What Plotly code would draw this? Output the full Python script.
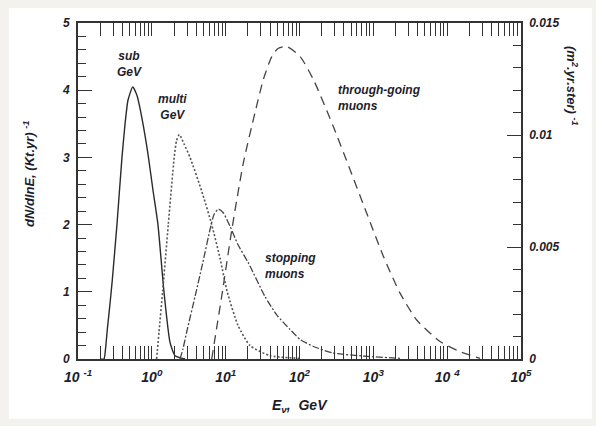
import plotly.graph_objects as go

# ---------------- data ----------------
# Neutrino energy (GeV) and event rates
sub_E = [0.20, 0.225, 0.236, 0.25, 0.27, 0.29, 0.337, 0.394, 0.434, 0.475, 0.551, 0.630, 0.730,
         0.887, 1.04, 1.21, 1.46, 1.76, 2.06, 2.81]
sub_N = [0.0, 0.0, 0.15, 0.45, 0.8, 1.15, 2.0, 3.0, 3.5, 3.85, 4.05, 3.92, 3.6,
         3.05, 2.5, 2.0, 1.0, 0.25, 0.05, 0.0]

multi_E = [1.16, 1.25, 1.40, 1.67, 2.01, 2.16, 2.36, 2.73, 3.29, 4.73, 6.47,
           8.38, 10.5, 14.7, 21.4, 39.8, 100.0]
multi_N = [0.0, 0.4, 1.0, 2.0, 3.0, 3.25, 3.34, 3.2, 3.0, 2.5, 2.0,
           1.5, 1.0, 0.5, 0.2, 0.05, 0.01]

# right axis units: (m^2 yr ster)^-1
stop_E = [2.41, 2.64, 3.02, 3.85, 4.89, 6.27, 6.95, 7.94, 9.20, 11.5, 14.7,
          20.3, 34.1, 49.7, 74.5, 102, 152, 284, 820, 2290]
stop_F = [0.0, 0.00045, 0.00132, 0.00279, 0.00429, 0.00591, 0.00645, 0.00669,
          0.00654, 0.00591, 0.0051, 0.00429, 0.00279, 0.00195, 0.00132, 0.00087,
          0.00057, 0.00027, 0.00012, 0.00003]

thru_E = [6.47, 7.40, 8.83, 12.1, 17.3, 24.9, 32.4, 42.1, 51.2, 67.1, 102, 154,
          287, 483, 813, 1365, 2300, 3870, 8000, 14900, 27900]
thru_F = [0.0, 0.0012, 0.00279, 0.00576, 0.00873, 0.01098, 0.01248, 0.0135,
          0.01386, 0.01395, 0.0135, 0.01248, 0.01038, 0.00846, 0.00651, 0.00459,
          0.00294, 0.00174, 0.00078, 0.00033, 0.00003]

x_tickvals = [0.1, 1, 10, 100, 1000, 10000, 100000]
x_ticktext = ["10 <sup>-1</sup>", "10<sup>0</sup>", "10<sup>1</sup>", "10<sup>2</sup>",
              "10<sup>3</sup>", "10 <sup>4</sup>", "10<sup>5</sup>"]
y_tickvals = [0, 1, 2, 3, 4, 5]
y2_tickvals = [0, 0.005, 0.01, 0.015]
y2_ticktext = ["0", "0.005", "0.01", "0.015"]

# ---------------- figure ----------------
FONT = "Liberation Sans, Arial, sans-serif"
TXT = "#1d1d2b"
AX = "#333333"

minor_x = [m * 10 ** k for k in range(-1, 5) for m in range(2, 10)]

fig = go.Figure()
fig.add_trace(go.Scatter(x=sub_E, y=sub_N, mode="lines", line=dict(color="#2a2a2a", width=1.4, shape="spline", smoothing=0.5), yaxis="y"))
fig.add_trace(go.Scatter(x=multi_E, y=multi_N, mode="lines", line=dict(color="#555555", width=1.6, dash="2px,2px", shape="spline", smoothing=0.6), yaxis="y"))
fig.add_trace(go.Scatter(x=stop_E, y=stop_F, mode="lines", line=dict(color="#444444", width=1.3, dash="7px,2px,2px,2px", shape="spline", smoothing=0.6), yaxis="y2"))
fig.add_trace(go.Scatter(x=thru_E, y=thru_F, mode="lines", line=dict(color="#444444", width=1.3, dash="9px,6px", shape="spline", smoothing=0.6), yaxis="y2"))

tickfont = dict(family=FONT, size=13, color=TXT, weight="bold", style="italic")

fig.update_layout(
    width=596, height=426,
    margin=dict(l=78, r=75, t=23, b=67),
    paper_bgcolor="#f3f2ee", plot_bgcolor="white",
    showlegend=False,
    xaxis=dict(type="log", range=[-1, 5], tickvals=x_tickvals, ticktext=x_ticktext,
               ticks="inside", ticklen=13, tickwidth=1.3, tickcolor=AX,
               showline=True, linecolor=AX, linewidth=1.6, mirror="allticks",
               showgrid=False, zeroline=False, tickfont=dict(tickfont, size=14),
               ticklabelstandoff=4,
               minor=dict(tickvals=minor_x, ticks="inside", ticklen=7, tickwidth=1.1, tickcolor=AX, showgrid=False)),
    yaxis=dict(range=[0, 5], tickvals=y_tickvals, ticks="inside", ticklen=14, tickwidth=1.3,
               tickcolor=AX, showline=True, linecolor=AX, linewidth=1.6, mirror=True,
               showgrid=False, zeroline=False, tickfont=dict(tickfont, size=12),
               ticklabelstandoff=4,
               minor=dict(dtick=0.2, ticks="inside", ticklen=8, tickwidth=1.1, tickcolor=AX, showgrid=False)),
    yaxis2=dict(range=[0, 0.015], tickvals=y2_tickvals, ticktext=y2_ticktext, overlaying="y", side="right",
                ticks="inside", ticklen=14, tickwidth=1.3, tickcolor=AX, showline=True,
                linecolor=AX, linewidth=1.6, showgrid=False, zeroline=False,
                tickfont=dict(tickfont, size=12), ticklabelstandoff=4,
                minor=dict(dtick=0.001, ticks="inside", ticklen=8, tickwidth=1.1, tickcolor=AX, showgrid=False)),
)

# white page behind the chart
fig.add_shape(type="rect", xref="paper", yref="paper", x0=-0.156, x1=1.16, y0=-0.178, y1=1.045,
              fillcolor="white", line=dict(width=0), layer="below")

def txt(x, y, s, size=13, xanchor="center", angle=0, align="center"):
    fig.add_annotation(x=x, y=y, xref="paper", yref="paper", text=s, showarrow=False,
                       xanchor=xanchor, yanchor="middle", textangle=angle, align=align,
                       font=dict(family=FONT, size=size, color=TXT, weight="bold", style="italic"))

# curve labels (pixel -> paper)
def px(xp):
    return (xp - 78) / 443.0
def py(yp):
    return (359 - yp) / 336.0

txt(px(129), py(64), "sub<br>GeV", size=12)
txt(px(172), py(107), "multi<br>GeV", size=12)
txt(px(336), py(97.5), "through-going<br>muons", size=12, xanchor="left", align="left")
txt(px(263), py(265.5), "stopping<br>muons", size=12, xanchor="left", align="left")

# axis titles
txt(px(29), py(174), "dN/dlnE, (Kt.yr) <sup>-1</sup>", size=13, angle=-90)
txt(px(572), py(86), "(m<sup>2</sup>.yr.ster) <sup>-1</sup>", size=13, angle=90)
txt(px(300), py(406), "E<sub>ν</sub>,  GeV", size=14)

fig.write_html("out.html")
